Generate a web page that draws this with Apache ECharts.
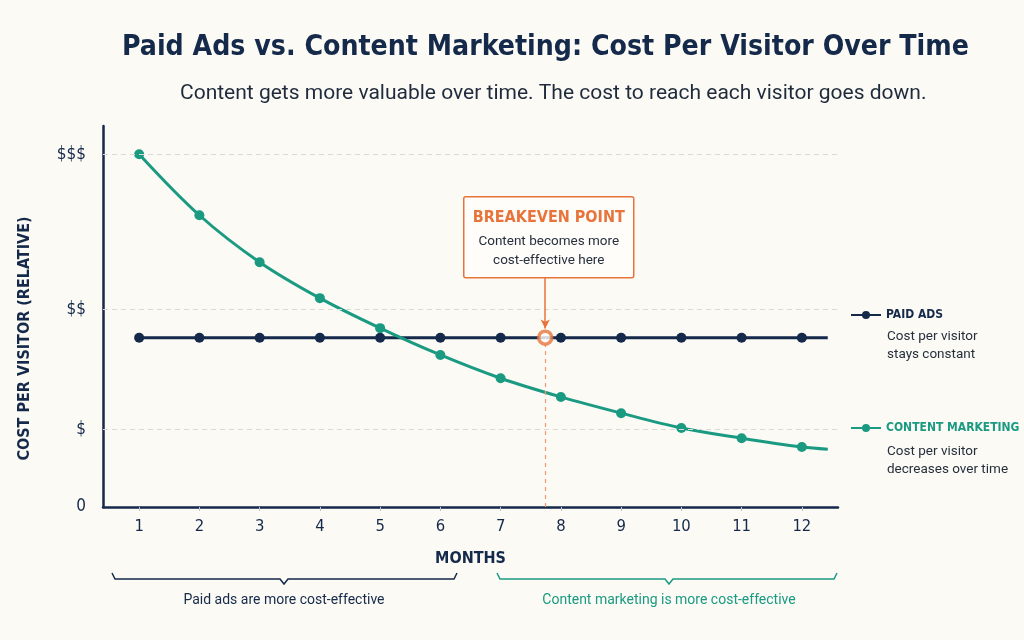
<!DOCTYPE html>
<html>
<head>
<meta charset="utf-8">
<script src="https://cdn.jsdelivr.net/npm/echarts@6/dist/echarts.min.js"></script>
<style>
  html, body { margin: 0; padding: 0; background: #fbfaf5; }
  #chart { width: 1024px; height: 640px; }
</style>
</head>
<body>
<div id="chart"></div>
<script>
// data (relative cost, $$$ = 100)
const months = [1, 2, 3, 4, 5, 6, 7, 8, 9, 10, 11, 12];
const contentCost = [100, 82.7, 69.4, 59.2, 50.7, 43.1, 36.5, 31.2, 26.6, 22.4, 19.5, 17.0];
const paidCost = [48, 48, 48, 48, 48, 48, 48, 48, 48, 48, 48, 48];
const lineEnd = [12.43, 16.4];      // the teal curve runs a bit past month 12
const breakeven = [7.74, 48];
const arrowTop = 65.2;
const yTicks = [0, 22, 56, 100];
const yTickLabels = ['0', '$', '$$', '$$$'];

const NAVY = '#15294a';
const TEAL = '#1b9a82';
const ORANGE = '#e8743b';
const COND = '"DejaVu Sans Condensed", Roboto, sans-serif';

const chart = echarts.init(document.getElementById('chart'));

const contentData = months.map((m, i) => [m, contentCost[i]]);
contentData.push({ value: lineEnd, symbol: 'none' });
const paidData = months.map((m, i) => [m, paidCost[i]]);
paidData.push({ value: [lineEnd[0], paidCost[0]], symbol: 'none' });

const option = {
  backgroundColor: '#fbfaf5',
  title: [
    {
      text: 'Paid Ads vs. Content Marketing: Cost Per Visitor Over Time',
      left: 117,
      top: 29,
      textStyle: { fontFamily: COND, fontWeight: 'bold', fontSize: 28.2, color: NAVY }
    },
    {
      text: 'Content gets more valuable over time. The cost to reach each visitor goes down.',
      left: 175,
      top: 78,
      textStyle: { fontFamily: 'Roboto', fontWeight: 'normal', fontSize: 21, color: '#1f2b3c' }
    }
  ],
  legend: {
    orient: 'vertical',
    left: 845,
    top: 304,
    itemWidth: 30,
    itemHeight: 10,
    itemGap: 101,
    textStyle: { fontFamily: COND, fontWeight: 'bold', fontSize: 12 },
    data: [
      { name: 'PAID ADS', textStyle: { color: NAVY } },
      { name: 'CONTENT MARKETING', textStyle: { color: TEAL } }
    ]
  },
  grid: { left: 103, right: 186, top: 126, bottom: 133 },
  xAxis: {
    type: 'value',
    min: 0.4,
    max: 12.6,
    name: 'MONTHS',
    nameLocation: 'middle',
    nameGap: 44,
    nameTextStyle: { fontFamily: COND, fontWeight: 'bold', fontSize: 16, color: NAVY },
    axisLine: { show: true, lineStyle: { color: NAVY, width: 2.5 } },
    axisTick: { show: true, customValues: months, length: 4, lineStyle: { color: '#c4c4c4' } },
    axisLabel: {
      customValues: months,
      margin: 11,
      fontFamily: COND,
      fontSize: 16.5,
      color: NAVY
    },
    splitLine: { show: false }
  },
  yAxis: {
    type: 'value',
    min: 0,
    max: 108,
    name: 'COST PER VISITOR (RELATIVE)',
    nameLocation: 'middle',
    nameGap: 70,
    nameTextStyle: { fontFamily: COND, fontWeight: 'bold', fontSize: 16, color: NAVY, padding: [0, 44, 0, 0] },
    axisLine: { show: true, lineStyle: { color: NAVY, width: 2.5 } },
    axisTick: { show: false },
    axisLabel: {
      customValues: yTicks,
      margin: 17,
      fontFamily: COND,
      fontSize: 17,
      color: NAVY,
      formatter: v => yTickLabels[yTicks.indexOf(v)]
    },
    splitLine: { show: false }
  },
  series: [
    {
      name: 'PAID ADS',
      type: 'line',
      data: paidData,
      color: NAVY,
      symbol: 'circle',
      symbolSize: 10,
      lineStyle: { width: 3 },
      z: 3,
      markLine: {
        silent: true,
        symbol: ['none', 'none'],
        label: { show: false },
        lineStyle: { color: '#d9d9d6', type: [5, 4], width: 1 },
        data: yTicks.slice(1).map(v => ({ yAxis: v }))
      }
    },
    {
      name: 'CONTENT MARKETING',
      type: 'line',
      data: contentData,
      color: TEAL,
      smooth: 0.35,
      symbol: 'circle',
      symbolSize: 10,
      lineStyle: { width: 3 },
      z: 4
    },
    {
      name: 'Breakeven',
      type: 'scatter',
      data: [breakeven],
      symbol: 'circle',
      symbolSize: 13,
      itemStyle: { color: '#ffffff', borderColor: ORANGE, borderWidth: 3.5 },
      z: 6,
      markLine: {
        silent: true,
        label: { show: false },
        data: [
          [
            { coord: [breakeven[0], 0], symbol: 'none', lineStyle: { color: '#ee9a6e', type: [4, 4], width: 1.2 } },
            { coord: breakeven, symbol: 'none' }
          ],
          [
            { coord: [breakeven[0], arrowTop], symbol: 'none', lineStyle: { color: ORANGE, type: 'solid', width: 1.5 } },
            { coord: [breakeven[0], 50.6], symbol: 'arrow', symbolSize: [7, 9] }
          ]
        ]
      }
    }
  ],
  graphic: [
    // breakeven callout
    {
      type: 'group',
      left: 463,
      top: 196,
      children: [
        {
          type: 'rect',
          shape: { x: 0, y: 0, width: 170, height: 81, r: 2 },
          style: { fill: '#fffdfa', stroke: ORANGE, lineWidth: 1.5 }
        },
        {
          type: 'text',
          x: 85, y: 21,
          style: { text: 'BREAKEVEN POINT', font: 'bold 16px ' + COND, fill: ORANGE, align: 'center', verticalAlign: 'middle' }
        },
        {
          type: 'text',
          x: 85, y: 45,
          style: { text: 'Content becomes more', font: '13.5px Roboto', fill: '#26303d', align: 'center', verticalAlign: 'middle' }
        },
        {
          type: 'text',
          x: 85, y: 64,
          style: { text: 'cost-effective here', font: '13.5px Roboto', fill: '#26303d', align: 'center', verticalAlign: 'middle' }
        }
      ]
    },
    // legend notes
    {
      type: 'text', left: 887, top: 328,
      style: { text: 'Cost per visitor\nstays constant', font: '13.5px Roboto', lineHeight: 18, fill: '#26303d' }
    },
    {
      type: 'text', left: 887, top: 443,
      style: { text: 'Cost per visitor\ndecreases over time', font: '13.5px Roboto', lineHeight: 18, fill: '#26303d' }
    },
    // braces under the axis
    {
      type: 'polyline',
      shape: { points: [[112, 573], [115, 579], [280, 579], [284, 584], [288, 579], [454, 579], [457, 573]] },
      style: { stroke: NAVY, lineWidth: 1.5, fill: null }
    },
    {
      type: 'text', x: 284, y: 600,
      style: { text: 'Paid ads are more cost-effective', font: '14px Roboto', fill: NAVY, align: 'center', verticalAlign: 'middle' }
    },
    {
      type: 'polyline',
      shape: { points: [[497, 573], [500, 579], [665, 579], [669, 584], [673, 579], [834, 579], [837, 573]] },
      style: { stroke: TEAL, lineWidth: 1.5, fill: null }
    },
    {
      type: 'text', x: 669, y: 600,
      style: { text: 'Content marketing is more cost-effective', font: '14px Roboto', fill: TEAL, align: 'center', verticalAlign: 'middle' }
    }
  ]
};

chart.setOption(option);
</script>
</body>
</html>
